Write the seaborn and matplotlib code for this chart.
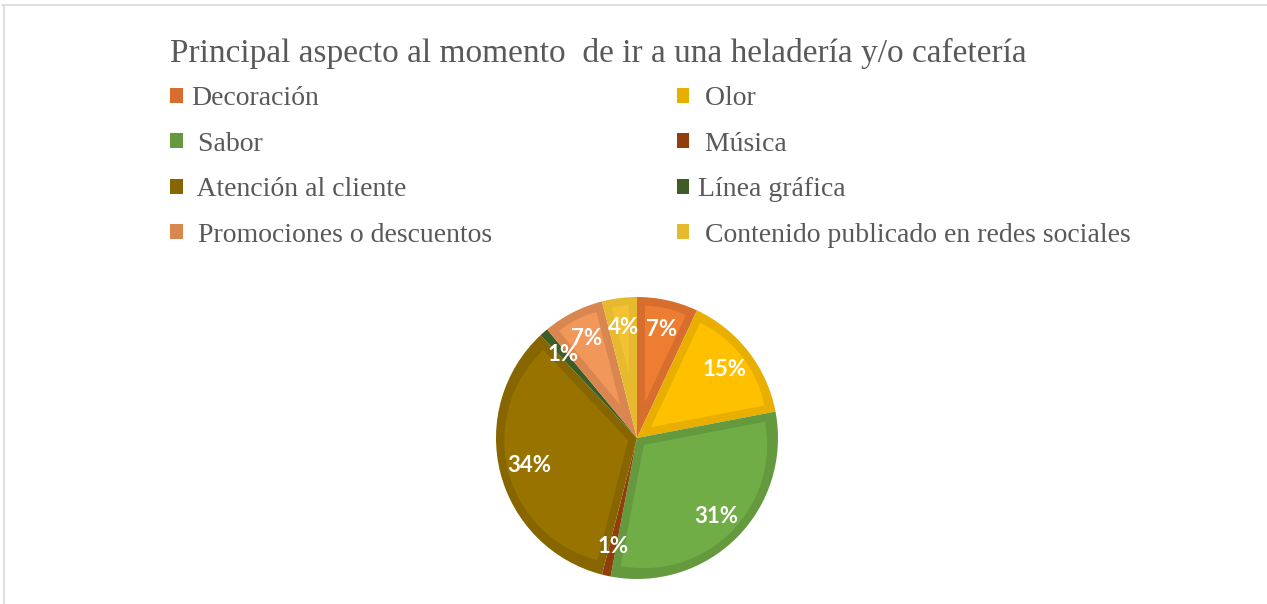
import matplotlib
matplotlib.use("Agg")
import numpy as np
import matplotlib.pyplot as plt
import seaborn as sns
from matplotlib.patches import Patch, Wedge
from matplotlib.lines import Line2D

sns.set_theme(style="white")
plt.rcParams['font.family'] = ['Liberation Serif', 'DejaVu Serif']

title = "Principal aspecto al momento  de ir a una heladería y/o cafetería"
categories = ["Decoración", "Olor", "Sabor", "Música", "Atención al cliente",
              "Línea gráfica", "Promociones o descuentos",
              "Contenido publicado en redes sociales"]
legend_labels = ["Decoración", " Olor", " Sabor", " Música", " Atención al cliente",
                 "Línea gráfica", " Promociones o descuentos",
                 " Contenido publicado en redes sociales"]
values = [7, 15, 31, 1, 34, 1, 7, 4]

fill_colors = ["#ED7D31", "#FFC000", "#70AD47", "#9E480E", "#997300",
               "#43682B", "#F1975A", "#F2C232"]
edge_colors = ["#D86E2D", "#E8AE00", "#64993E", "#8E3F0C", "#876600",
               "#3C5E26", "#D98650", "#E6B92E"]

fig = plt.figure(figsize=(12.67, 6.04), dpi=100)
fig.patch.set_facecolor("white")

# border lines
fig.add_artist(Line2D([2 / 1267, 1], [1 - 4.5 / 604, 1 - 4.5 / 604],
                      color="#d9d9d9", lw=1.2, transform=fig.transFigure))
fig.add_artist(Line2D([3.5 / 1267, 3.5 / 1267], [0, 1 - 4.5 / 604],
                      color="#d9d9d9", lw=1.2, transform=fig.transFigure))

cx, cy, r = 637, 438, 141
ax = fig.add_axes([(cx - r) / 1267, (604 - cy - r) / 604, 2 * r / 1267, 2 * r / 604])
wedges, _, autotexts = ax.pie(values, colors=edge_colors, startangle=90,
                              counterclock=False, radius=1, autopct="%.0f%%",
                              pctdistance=0.79,
                              wedgeprops=dict(linewidth=0),
                              textprops=dict(color="white", fontsize=16,
                                             fontweight="bold", family="Lato"))
# lighter inner part of each slice (bevel look): inset copy of each wedge
band = 8.0 / r
for w, fc in zip(wedges, fill_colors):
    t1, t2 = w.theta1, w.theta2
    half = np.deg2rad(abs(t2 - t1) / 2)
    mid = np.deg2rad((t1 + t2) / 2)
    shift = band / np.sin(half)
    r_in = w.r - band - shift
    if r_in <= 0:
        continue
    inner = Wedge((shift * np.cos(mid), shift * np.sin(mid)), r_in, t1, t2,
                  facecolor=fc, edgecolor="none", zorder=w.get_zorder() + 0.5)
    ax.add_patch(inner)
for t in autotexts:
    t.set_zorder(5)
ax.set_xlim(-1, 1)
ax.set_ylim(-1, 1)
ax.set_aspect("equal")
ax.axis("off")

fig.text(170 / 1267, 1 - 53 / 604, title, fontsize=24, color="#595959",
         va="center", ha="left")

order = [0, 2, 4, 6, 1, 3, 5, 7]
handles = [Patch(facecolor=edge_colors[i], edgecolor="none") for i in order]
labels = [legend_labels[i] for i in order]
leg = fig.legend(handles, labels, ncol=2, loc="upper left",
                 bbox_to_anchor=(145 / 1267, 1 - 61 / 604),
                 frameon=False, fontsize=20, labelcolor="#595959",
                 handlelength=0.45, handleheight=0.45, handletextpad=0.3,
                 columnspacing=6.66, labelspacing=0.74)

fig.savefig("out.png", dpi=100, facecolor="white")
